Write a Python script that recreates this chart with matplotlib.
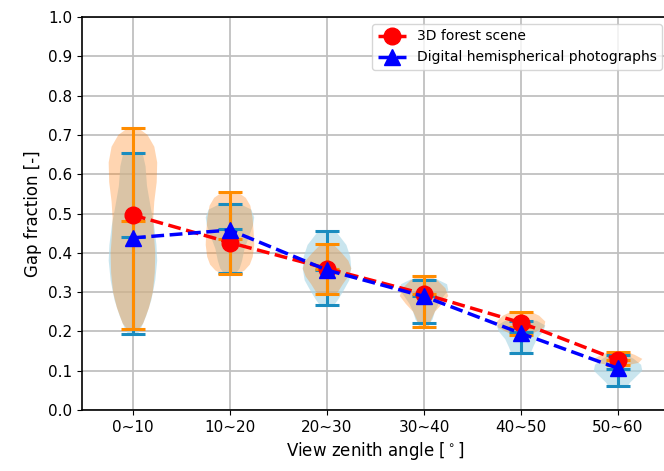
import numpy as np
import matplotlib
matplotlib.use('Agg')
import matplotlib.pyplot as plt

#%%
# view zenith angle classes
angle_labels = ['0~10', '10~20', '20~30', '30~40', '40~50', '50~60']

# mean gap fraction per class (the dashed lines)
forest_mean = [0.496, 0.426, 0.360, 0.295, 0.222, 0.127]
dhp_mean = [0.438, 0.458, 0.356, 0.289, 0.195, 0.106]

# violin summary stats
forest_median = [0.481, 0.435, 0.360, 0.295, 0.210, 0.127]
forest_max = [0.718, 0.555, 0.422, 0.341, 0.250, 0.148]
forest_min = [0.207, 0.345, 0.294, 0.211, 0.191, 0.115]

dhp_median = [0.440, 0.460, 0.355, 0.290, 0.198, 0.105]
dhp_max = [0.653, 0.523, 0.456, 0.332, 0.227, 0.140]
dhp_min = [0.193, 0.348, 0.267, 0.222, 0.144, 0.061]

# violin outlines: gap fraction levels and relative width at each level
forest_shape_y = [
    [0.718, 0.70, 0.67, 0.63, 0.58, 0.53, 0.49, 0.45, 0.40, 0.35, 0.30, 0.26, 0.22, 0.207],
    [0.555, 0.54, 0.52, 0.49, 0.45, 0.42, 0.39, 0.37, 0.355, 0.345],
    [0.422, 0.40, 0.38, 0.36, 0.34, 0.32, 0.30, 0.294],
    [0.341, 0.33, 0.31, 0.29, 0.27, 0.25, 0.23, 0.211],
    [0.250, 0.24, 0.225, 0.21, 0.20, 0.191],
    [0.148, 0.14, 0.13, 0.12, 0.115],
]
forest_shape_w = [
    [0.20, 0.60, 0.88, 1.0, 0.98, 0.88, 0.84, 0.86, 0.92, 0.90, 0.82, 0.66, 0.42, 0.25],
    [0.30, 0.65, 0.84, 0.93, 0.98, 1.0, 0.94, 0.82, 0.60, 0.30],
    [0.25, 0.60, 0.88, 1.0, 0.88, 0.65, 0.45, 0.30],
    [0.25, 0.55, 0.88, 1.0, 0.75, 0.45, 0.30, 0.20],
    [0.40, 0.75, 1.0, 0.95, 0.65, 0.35],
    [0.35, 0.70, 1.0, 0.85, 0.45],
]
dhp_shape_y = [
    [0.653, 0.62, 0.57, 0.52, 0.47, 0.42, 0.38, 0.33, 0.28, 0.24, 0.21, 0.193],
    [0.523, 0.51, 0.49, 0.47, 0.44, 0.41, 0.38, 0.36, 0.348],
    [0.456, 0.44, 0.42, 0.39, 0.36, 0.33, 0.30, 0.28, 0.267],
    [0.332, 0.32, 0.305, 0.29, 0.27, 0.25, 0.23, 0.222],
    [0.227, 0.215, 0.20, 0.18, 0.16, 0.144],
    [0.140, 0.13, 0.115, 0.10, 0.085, 0.07, 0.061],
]
dhp_shape_w = [
    [0.40, 0.52, 0.58, 0.72, 0.87, 0.97, 1.0, 0.92, 0.76, 0.55, 0.35, 0.20],
    [0.45, 0.88, 1.0, 0.95, 0.78, 0.60, 0.50, 0.40, 0.25],
    [0.35, 0.55, 0.80, 0.96, 1.0, 0.92, 0.65, 0.45, 0.30],
    [0.55, 0.95, 1.0, 0.82, 0.60, 0.45, 0.35, 0.25],
    [0.65, 1.0, 0.92, 0.65, 0.50, 0.40],
    [0.35, 0.65, 0.95, 1.0, 0.75, 0.50, 0.40],
]


def build_stats(shape_y, shape_w, means, medians, mins, maxs):
    stats = []
    for ys, ws, mn, md, lo, hi in zip(shape_y, shape_w, means, medians, mins, maxs):
        stats.append({'coords': np.array(ys), 'vals': np.array(ws),
                      'mean': mn, 'median': md, 'min': lo, 'max': hi})
    return stats


def style_violin(parts, body_color, body_alpha, line_color):
    for body in parts['bodies']:
        body.set_facecolor(body_color)
        body.set_edgecolor('none')
        body.set_alpha(body_alpha)
    for key in ['cmaxes', 'cmins', 'cbars', 'cmedians']:
        if key in parts:
            parts[key].set_color(line_color)
            parts[key].set_linewidth(2.2)


#%%
fig = plt.figure(figsize=(6.64, 4.71), dpi=100)
ax = fig.add_axes([82 / 664, 61 / 471, 587 / 664, 393 / 471])

positions = np.arange(1, len(angle_labels) + 1)

dhp_parts = ax.violin(build_stats(dhp_shape_y, dhp_shape_w, dhp_mean, dhp_median, dhp_min, dhp_max),
                      positions=positions, widths=0.5, showmedians=True)
style_violin(dhp_parts, 'lightblue', 0.65, '#1a8cbf')

forest_parts = ax.violin(build_stats(forest_shape_y, forest_shape_w, forest_mean, forest_median, forest_min, forest_max),
                         positions=positions, widths=0.5, showmedians=True)
style_violin(forest_parts, '#ff7f0e', 0.32, 'darkorange')

ax.plot(positions, forest_mean, 'o--', color='red', lw=2.5, markersize=12, label='3D forest scene')
ax.plot(positions, dhp_mean, '^--', color='blue', lw=2.5, markersize=12, label='Digital hemispherical photographs')

ax.set_xlim(0.475, 6.525)
ax.set_ylim(0, 1.0)
ax.set_xticks(positions)
ax.set_xticklabels(angle_labels)
ax.set_yticks(np.arange(0, 1.01, 0.1))
ax.tick_params(labelsize=11)
ax.grid(True, color='#c0c0c0', lw=1.3)
ax.set_axisbelow(True)
for spine in ax.spines.values():
    spine.set_linewidth(1.2)

ax.set_xlabel(r'View zenith angle [$^\circ$]', fontsize=12)
ax.set_ylabel('Gap fraction [-]', fontsize=12)
ax.legend(loc='upper right', fontsize=10)

fig.savefig('out.png', dpi=100)
